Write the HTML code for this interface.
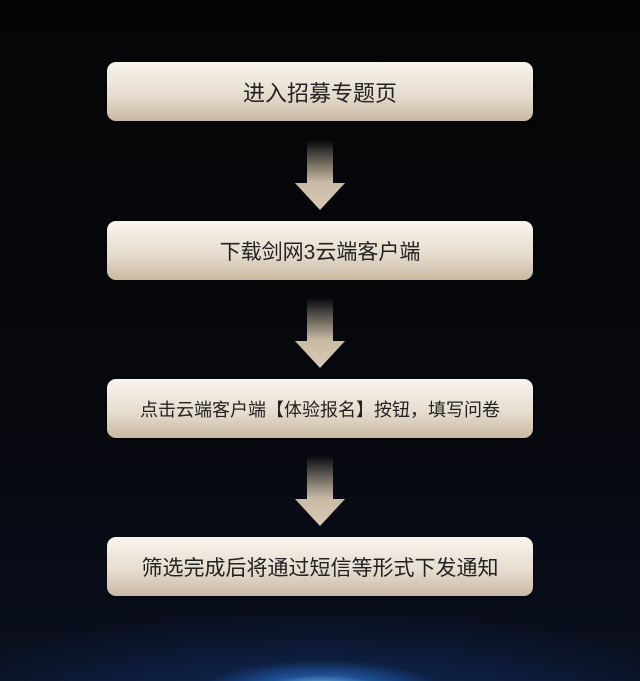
<!DOCTYPE html>
<html><head><meta charset="utf-8"><style>
body{margin:0;width:640px;height:681px;overflow:hidden;background:#050508;position:relative;font-family:"Liberation Sans","Noto Sans CJK SC",sans-serif}
.bg{position:absolute;inset:0;background:radial-gradient(ellipse 120px 30px at 322px 690px,rgba(150,210,255,1),rgba(40,110,200,.6) 50%,transparent 100%),radial-gradient(ellipse 420px 110px at 320px 720px,rgba(20,60,130,.7),transparent 100%),linear-gradient(#050507,#07080d 60%,#0a1020)}
.box{position:absolute;left:107px;width:426px;height:59px;border-radius:9px;background:linear-gradient(#f8f4ee,#e7ddd0 55%,#c9b9a2);box-shadow:0 1px 2px rgba(0,0,0,.6);display:flex;align-items:center;justify-content:center;color:#222;font-size:22px}
</style></head><body><div class="bg"></div>
<div class="box" style="top:62px">进入招募专题页</div>
<div class="box" style="top:221px;font-size:21px">下载剑网3云端客户端</div>
<div class="box" style="top:379px;font-size:18px">点击云端客户端【体验报名】按钮，填写问卷</div>
<div class="box" style="top:537px;font-size:21px">筛选完成后将通过短信等形式下发通知</div>
<svg width="640" height="681" style="position:absolute;left:0;top:0">
<defs><linearGradient id="g" x1="0" y1="0" x2="0" y2="1"><stop offset="0" stop-color="#c8b9a4" stop-opacity="0"/><stop offset=".6" stop-color="#c8b9a4"/><stop offset="1" stop-color="#d8cbb8"/></linearGradient></defs>
<path d="M307 140H333V183H345L320 210L295 183H307Z" fill="url(#g)"/>
<path d="M307 298H333V341H345L320 368L295 341H307Z" fill="url(#g)"/>
<path d="M307 456H333V499H345L320 526L295 499H307Z" fill="url(#g)"/>
</svg>
</body></html>
